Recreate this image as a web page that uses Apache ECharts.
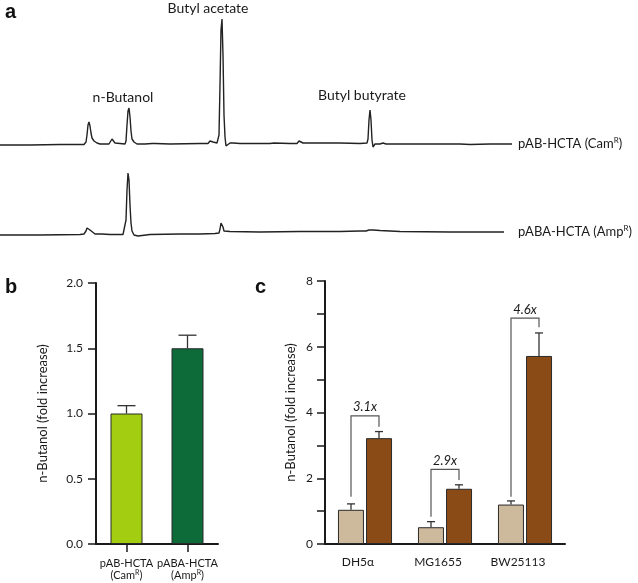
<!DOCTYPE html>
<html>
<head>
<meta charset="utf-8">
<script src="https://cdn.jsdelivr.net/npm/echarts@6/dist/echarts.min.js"></script>
<style>
  html, body { margin: 0; background: #fff; }
  #chart { width: 638px; height: 583px; }
</style>
</head>
<body>
<div id="chart"></div>
<script>
// panel a: chromatogram traces, [retention position, signal above baseline]
const trace1 = [
  [0, 0], [30, 0], [60, 0.5], [84, 0.5], [86, 3], [87, 10], [88, 20], [89, 23], [90, 19], [91, 12],
  [92, 7], [94, 4], [97, 2], [100, 1], [105, 1], [109, 1], [110, 2], [112, 6], [113, 5], [115, 2],
  [117, 1], [125, 1], [126, 4], [127, 20], [128, 34], [129, 37], [130, 28], [131, 14], [132, 6],
  [134, 3], [137, 1], [145, 1], [152, 1.5], [153, 2.5], [155, 1.5], [170, 1], [200, 1.5], [208, 1.5],
  [210, 4], [212, 5], [213, 3], [215, 2], [217, 2], [219, 10], [220, 60], [221, 115], [222, 126],
  [223, 90], [224, 30], [225, 8], [226, -1], [227, -3], [228, 0], [230, 2], [233, 2], [240, 1.5],
  [260, 1.5], [270, 1.5], [272, 3], [274, 2], [290, 1.5], [297, 1.5], [299, 4], [301, 2.5], [303, 2],
  [320, 2], [340, 2], [360, 1.5], [367, 2], [368, 6], [369, 25], [370, 35], [371, 25], [372, 5],
  [373, -2], [375, 1], [380, 1], [383, 2], [386, 1], [400, 1], [430, 1], [460, 1], [470, 0.5],
  [490, 1], [512, 1]
];
const trace2 = [
  [0, 0], [40, 0], [80, 0.5], [84, 1], [86, 4], [87, 7], [88, 9], [89, 8], [90, 5], [92, 3], [95, 1],
  [98, 1], [100, 1.5], [102, 1], [110, 0.5], [123, 0.5], [125, 2], [126, 15], [127, 45], [128, 62],
  [129, 55], [130, 30], [131, 12], [132, 4], [134, 0], [136, -1], [138, -1], [140, 0], [150, 0.5],
  [180, 1], [200, 1], [215, 1.5], [219, 2], [220, 6], [221, 12], [222, 14], [223, 8], [224, 4],
  [226, 3], [230, 3.5], [260, 3], [300, 3.5], [340, 3.5], [360, 4], [366, 4], [369, 5], [370, 7],
  [371, 5], [373, 5], [380, 4.5], [400, 3.5], [450, 3], [504, 3]
];
const traceNames = ['pAB-HCTA', 'pABA-HCTA'];
const traceMarkers = ['Cam', 'Amp'];

// panel b
const plasmids = ['pAB-HCTA', 'pABA-HCTA'];
const plasmidMarkers = ['Cam', 'Amp'];
const plasmidMeans = [1.0, 1.5];
const plasmidErrTop = [1.06, 1.6];

// panel c
const strains = ['DH5α', 'MG1655', 'BW25113'];
const controlMeans = [1.04, 0.51, 1.2];
const controlErrTop = [1.22, 0.68, 1.31];
const hctaMeans = [3.22, 1.68, 5.72];
const hctaErrTop = [3.42, 1.8, 6.42];
const foldLabels = ['3.1x', '2.9x', '4.6x'];
const bracketTops = [3.9, 2.27, 6.87];
const bracketLeftFrom = [1.44, 0.83, 1.44];
const bracketRightFrom = [3.57, 1.95, 6.59];

const FONT = 'Lato, "Open Sans", sans-serif';
const INK = '#1a1a1a';

const chart = echarts.init(document.getElementById('chart'));

function errorSeries(xi, yi, means, tops, offset, capHalf) {
  return {
    type: 'custom',
    xAxisIndex: xi,
    yAxisIndex: yi,
    silent: true,
    z: 1,
    data: means.map((m, i) => [i, m, tops[i]]),
    renderItem: (params, api) => {
      const a = api.coord([api.value(0), api.value(1)]);
      const b = api.coord([api.value(0), api.value(2)]);
      const x = a[0] + offset;
      const style = { stroke: '#333', lineWidth: 1.3 };
      return {
        type: 'group',
        children: [
          { type: 'line', shape: { x1: x, y1: a[1], x2: x, y2: b[1] }, style },
          { type: 'line', shape: { x1: x - capHalf, y1: b[1], x2: x + capHalf, y2: b[1] }, style }
        ]
      };
    }
  };
}

const supRich = {
  n: { fontSize: 11, color: INK, fontFamily: FONT, lineHeight: 12, align: 'center' },
  s: { fontSize: 7, color: INK, fontFamily: FONT, verticalAlign: 'top', lineHeight: 12, align: 'center' }
};

const axisBase = {
  axisLine: { show: true, onZero: false, lineStyle: { color: INK, width: 2 } },
  axisTick: { show: true, length: 8, lineStyle: { color: INK, width: 1.5 } },
  splitLine: { show: false },
  axisLabel: { color: INK, fontSize: 12, fontFamily: FONT }
};

function traceSeries(idx, data, dist) {
  return {
    type: 'line',
    xAxisIndex: idx,
    yAxisIndex: idx,
    data: data,
    symbol: 'none',
    silent: true,
    lineStyle: { color: '#222', width: 1.4 },
    endLabel: {
      show: true,
      distance: dist,
      formatter: () => '{n|' + traceNames[idx] + ' (' + traceMarkers[idx] + '}{s|R}{n|)}',
      rich: {
        n: { fontSize: 13, color: INK, fontFamily: FONT, lineHeight: 15 },
        s: { fontSize: 8, color: INK, fontFamily: FONT, verticalAlign: 'top', lineHeight: 15 }
      }
    }
  };
}

chart.setOption({
  animation: false,
  backgroundColor: '#fff',
  grid: [
    { left: 0, width: 512, top: 15, height: 140 },
    { left: 0, width: 512, top: 165, height: 80 },
    { left: 96, right: 420, top: 283, bottom: 39 },
    { left: 325, right: 73, top: 281, bottom: 39 }
  ],
  xAxis: [
    { type: 'value', gridIndex: 0, min: 0, max: 512, show: false },
    { type: 'value', gridIndex: 1, min: 0, max: 512, show: false },
    {
      ...axisBase, type: 'category', gridIndex: 2, data: plasmids,
      axisTick: { ...axisBase.axisTick, alignWithLabel: true },
      axisLabel: {
        margin: 13,
        interval: 0,
        formatter: (v, i) => '{n|' + v + '}\n{n|(' + plasmidMarkers[i] + '}{s|R}{n|)}',
        rich: supRich
      }
    },
    {
      ...axisBase, type: 'category', gridIndex: 3, data: strains,
      axisTick: { show: false },
      axisLabel: { ...axisBase.axisLabel, interval: 0, margin: 12, padding: [0, 14, 0, 0] }
    }
  ],
  yAxis: [
    { type: 'value', gridIndex: 0, min: -10, max: 130, show: false },
    { type: 'value', gridIndex: 1, min: -10, max: 70, show: false },
    {
      ...axisBase, type: 'value', gridIndex: 2, min: 0, max: 2, interval: 0.5,
      axisLabel: { ...axisBase.axisLabel, margin: 13, formatter: v => v.toFixed(1) },
      name: 'n-Butanol (fold increase)', nameLocation: 'middle', nameGap: 47,
      nameTextStyle: { fontSize: 13, color: INK, fontFamily: FONT }
    },
    {
      ...axisBase, type: 'value', gridIndex: 3, min: 0, max: 8, interval: 1,
      axisLabel: { ...axisBase.axisLabel, margin: 12, formatter: v => (v % 2 === 0 ? v : '') },
      name: 'n-Butanol (fold increase)', nameLocation: 'middle', nameGap: 28,
      nameTextStyle: { fontSize: 13, color: INK, fontFamily: FONT }
    }
  ],
  graphic: [
    { type: 'text', left: 5, top: 2, style: { text: 'a', font: 'bold 20px "Liberation Sans", Arial', fill: '#111' } },
    { type: 'text', left: 5, top: 277, style: { text: 'b', font: 'bold 20px "Liberation Sans", Arial', fill: '#111' } },
    { type: 'text', left: 255, top: 277, style: { text: 'c', font: 'bold 20px "Liberation Sans", Arial', fill: '#111' } },
    { type: 'text', x: 123, y: 97, style: { text: 'n-Butanol', font: '14px ' + FONT, fill: INK, align: 'center', verticalAlign: 'middle' } },
    { type: 'text', x: 208, y: 8, style: { text: 'Butyl acetate', font: '14px ' + FONT, fill: INK, align: 'center', verticalAlign: 'middle' } },
    { type: 'text', x: 362, y: 95, style: { text: 'Butyl butyrate', font: '14px ' + FONT, fill: INK, align: 'center', verticalAlign: 'middle' } }
  ],
  series: [
    traceSeries(0, trace1, 6),
    traceSeries(1, trace2, 14),
    {
      type: 'bar',
      xAxisIndex: 2,
      yAxisIndex: 2,
      barWidth: 32,
      data: plasmidMeans.map((v, i) => ({
        value: v,
        itemStyle: { color: i === 0 ? '#a3cd10' : '#0d6b3a' }
      })),
      itemStyle: { borderColor: '#2a2a2a', borderWidth: 1 }
    },
    errorSeries(2, 2, plasmidMeans, plasmidErrTop, 0, 9),
    {
      type: 'bar',
      xAxisIndex: 3,
      yAxisIndex: 3,
      barWidth: 26,
      barGap: '8%',
      data: controlMeans,
      itemStyle: { color: '#cdb99b', borderColor: '#2a2a2a', borderWidth: 1 }
    },
    {
      type: 'bar',
      xAxisIndex: 3,
      yAxisIndex: 3,
      barWidth: 26,
      barGap: '8%',
      data: hctaMeans,
      itemStyle: { color: '#8a4b17', borderColor: '#2a2a2a', borderWidth: 1 }
    },
    errorSeries(3, 3, controlMeans, controlErrTop, -14, 4),
    errorSeries(3, 3, hctaMeans, hctaErrTop, 14, 4),
    {
      type: 'custom',
      xAxisIndex: 3,
      yAxisIndex: 3,
      silent: true,
      data: strains.map((s, i) => [i, bracketLeftFrom[i], bracketRightFrom[i], bracketTops[i]]),
      renderItem: (params, api) => {
        const i = api.value(0);
        const l = api.coord([i, api.value(1)]);
        const r = api.coord([i, api.value(2)]);
        const t = api.coord([i, api.value(3)]);
        const xl = l[0] - 14, xr = l[0] + 14;
        return {
          type: 'group',
          children: [
            {
              type: 'polyline',
              shape: { points: [[xl, l[1]], [xl, t[1]], [xr, t[1]], [xr, r[1]]] },
              style: { stroke: '#555', lineWidth: 1.2, fill: null }
            },
            {
              type: 'text',
              style: {
                text: foldLabels[params.dataIndex], x: (xl + xr) / 2, y: t[1] - 2,
                align: 'center', verticalAlign: 'bottom',
                font: 'italic 13px ' + FONT, fill: INK
              }
            }
          ]
        };
      }
    }
  ]
});
</script>
</body>
</html>
